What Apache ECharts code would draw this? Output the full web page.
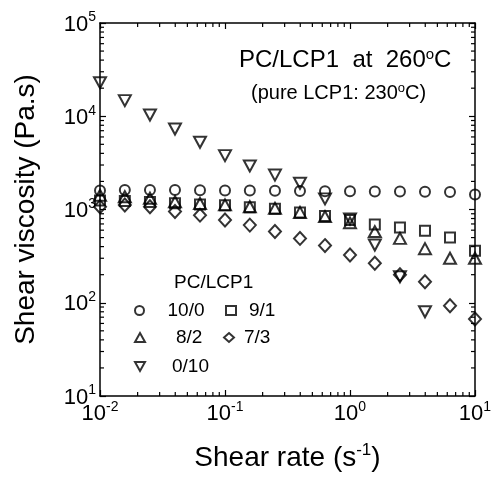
<!DOCTYPE html>
<html>
<head>
<meta charset="utf-8">
<script src="https://cdn.jsdelivr.net/npm/echarts@6/dist/echarts.min.js"></script>
<style>
  html, body { margin: 0; padding: 0; background: #fff; }
  #chart { width: 502px; height: 477px; }
</style>
</head>
<body>
<div id="chart"></div>
<script>
var shearRate = [0.01, 0.0158, 0.0251, 0.0398, 0.0631, 0.1, 0.158, 0.251, 0.398, 0.631, 1, 1.58, 2.51, 3.98, 6.31, 10];
var pc10_0 = [1600, 1620, 1620, 1620, 1610, 1600, 1600, 1590, 1580, 1570, 1570, 1560, 1560, 1550, 1540, 1450];
var pc9_1 = [1250, 1230, 1200, 1170, 1130, 1110, 1060, 1020, 930, 850, 770, 690, 640, 590, 500, 360];
var pc8_2 = [1420, 1370, 1320, 1210, 1160, 1120, 1070, 1030, 930, 840, 720, 580, 490, 380, 300, 300];
var pc7_3 = [1070, 1120, 1070, 950, 870, 770, 680, 580, 490, 410, 325, 265, 200, 168, 93, 67];
var pc0_10 = [22900, 14700, 10300, 7300, 5260, 3780, 2930, 2340, 1910, 1300, 790, 416, 190, 80];
var seriesNames = ['10/0', '9/1', '8/2', '7/3', '0/10'];
var xDecades = [0.01, 0.1, 1];
var yDecades = [10, 100, 1000, 10000];

var dom = document.getElementById('chart');
var myChart = echarts.init(dom, null, { renderer: 'canvas' });

var FONT = 'Liberation Sans, Arial, sans-serif';

function pairs(ys) {
    return ys.map(function (y, i) { return [shearRate[i], y]; });
}

// minor tick positions 2..9 within each decade (axis decoration only)
var minorData = [];
xDecades.forEach(function (d) {
    for (var m = 2; m <= 9; m++) minorData.push([d * m, 10, 0]);
});
yDecades.forEach(function (d) {
    for (var m = 2; m <= 9; m++) minorData.push([0.01, d * m, 1]);
});

var supRich = {
    b: { fontSize: 22, fontFamily: FONT, color: '#000', verticalAlign: 'bottom' },
    s: { fontSize: 14, fontFamily: FONT, color: '#000', verticalAlign: 'bottom', padding: [0, 0, 11, 0] }
};

function expLabel(v) {
    var e = Math.round(Math.log10(v));
    return '{b|10}{s|' + e + '}';
}

var frame = {
    axisLine: { show: true, lineStyle: { color: '#000', width: 1.5 } },
    axisTick: { show: true, inside: true, length: 6, lineStyle: { color: '#000', width: 1.2 } },
    splitLine: { show: false }
};

function markSeries(name, ys, symbol, size, rotate) {
    return {
        name: name,
        type: 'scatter',
        data: pairs(ys),
        symbol: symbol,
        symbolSize: size,
        symbolRotate: rotate || 0,
        itemStyle: { color: 'rgba(255,255,255,0)', borderColor: '#000', borderWidth: 2 },
        z: 3
    };
}

function legendAt(name, left, top, pad, icon) {
    var lg = {
        data: [name],
        left: left,
        top: top,
        padding: 0,
        itemWidth: 10,
        itemHeight: 9,
        selectedMode: false,
        itemStyle: { color: 'rgba(255,255,255,0)', borderColor: '#000', borderWidth: 2 },
        textStyle: { fontSize: 19, fontFamily: FONT, color: '#000', padding: [0, 0, 0, pad] }
    };
    if (icon) lg.icon = icon;
    return lg;
}

var option = {
    backgroundColor: '#fff',
    animation: false,
    title: [
        {
            text: 'PC/LCP1  at  260{s|o}C',
            left: 234, top: 42,
            textStyle: {
                fontSize: 24, fontFamily: FONT, fontWeight: 'normal', color: '#000',
                rich: {
                    s: { fontSize: 15, fontFamily: FONT, verticalAlign: 'bottom', padding: [0, 0, 11, 0] }
                }
            }
        },
        {
            text: '(pure LCP1: 230{s|o}C)',
            left: 246, top: 77,
            textStyle: {
                fontSize: 20, fontFamily: FONT, fontWeight: 'normal', color: '#000',
                rich: {
                    s: { fontSize: 13, fontFamily: FONT, verticalAlign: 'bottom', padding: [0, 0, 9, 0] }
                }
            }
        },
        {
            text: 'PC/LCP1',
            left: 169, top: 268,
            textStyle: { fontSize: 19, fontFamily: FONT, fontWeight: 'normal', color: '#000' }
        }
    ],
    legend: [
        legendAt('10/0', 134, 301, 18),
        legendAt('9/1', 225, 301, 8),
        legendAt('8/2', 134, 328, 26),
        legendAt('7/3', 223, 328, 5),
        legendAt('0/10', 134, 357, 22, 'path://M0,0 L10,0 L5,9 Z')
    ],
    grid: { left: 100, right: 27, top: 23, bottom: 81 },
    xAxis: [
        Object.assign({
            type: 'log', logBase: 10, min: 0.01, max: 10, position: 'bottom',
            name: '{a|Shear rate (s}{s|-1}{a|)}',
            nameLocation: 'middle', nameGap: 46,
            nameTextStyle: {
                rich: {
                    a: { fontSize: 28, fontFamily: FONT, color: '#000', verticalAlign: 'bottom' },
                    s: { fontSize: 17, fontFamily: FONT, color: '#000', verticalAlign: 'bottom', padding: [0, 0, 13, 0] }
                }
            },
            axisLabel: { margin: 4, formatter: expLabel, rich: supRich }
        }, frame),
        Object.assign({
            type: 'log', logBase: 10, min: 0.01, max: 10, position: 'top',
            axisLabel: { show: false }
        }, frame)
    ],
    yAxis: [
        Object.assign({
            type: 'log', logBase: 10, min: 10, max: 100000, position: 'left',
            name: 'Shear viscosity (Pa.s)',
            nameLocation: 'middle', nameGap: 60, nameRotate: 90,
            nameTextStyle: { fontSize: 28, fontFamily: FONT, color: '#000' },
            axisLabel: { margin: 4, formatter: expLabel, rich: supRich }
        }, frame),
        Object.assign({
            type: 'log', logBase: 10, min: 10, max: 100000, position: 'right',
            axisLabel: { show: false }
        }, frame)
    ],
    series: [
        {
            type: 'custom',
            silent: true,
            clip: false,
            data: minorData,
            z: 1,
            renderItem: function (params, api) {
                var cs = params.coordSys;
                var kind = api.value(2);
                var len = 4;
                var style = { stroke: '#000', lineWidth: 1.2 };
                if (kind === 0) {
                    var x = api.coord([api.value(0), 10])[0];
                    var yb = cs.y + cs.height, yt = cs.y;
                    return { type: 'group', children: [
                        { type: 'line', shape: { x1: x, y1: yb, x2: x, y2: yb - len }, style: style },
                        { type: 'line', shape: { x1: x, y1: yt, x2: x, y2: yt + len }, style: style }
                    ] };
                }
                var y = api.coord([0.01, api.value(1)])[1];
                var xl = cs.x, xr = cs.x + cs.width;
                return { type: 'group', children: [
                    { type: 'line', shape: { x1: xl, y1: y, x2: xl + len, y2: y }, style: style },
                    { type: 'line', shape: { x1: xr, y1: y, x2: xr - len, y2: y }, style: style }
                ] };
            }
        },
        markSeries('10/0', pc10_0, 'circle', 10),
        markSeries('9/1', pc9_1, 'rect', 10),
        markSeries('8/2', pc8_2, 'triangle', [12, 11]),
        markSeries('7/3', pc7_3, 'diamond', [12, 13]),
        markSeries('0/10', pc0_10, 'triangle', [12, 11], 180)
    ]
};

if (option && typeof option === 'object') {
    myChart.setOption(option);
}

window.addEventListener('resize', myChart.resize);
</script>
</body>
</html>
